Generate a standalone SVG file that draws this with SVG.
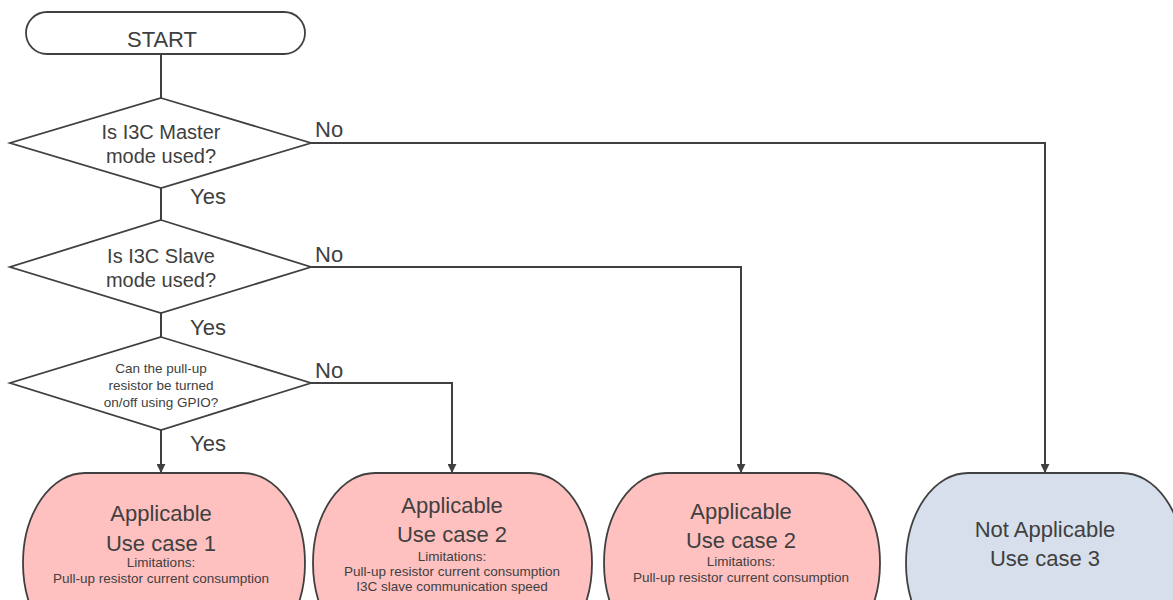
<svg xmlns="http://www.w3.org/2000/svg" width="1173" height="600" viewBox="0 0 1173 600">
<defs>
<style>
.s{stroke:#404040;stroke-width:1.8;fill:#fff}
.app{fill:#ffc0c0;stroke:#404040;stroke-width:1.8}
.na{fill:#d6dfeb;stroke:#404040;stroke-width:1.8}
.ln{stroke:#404040;stroke-width:2;fill:none}
text{font-family:"Liberation Sans",Arial,sans-serif;fill:#404040;text-anchor:middle}
.big{font-size:22px}
.dt{font-size:20px}
.sm{font-size:13.5px}
.lbl{font-size:22px;text-anchor:start}
</style>
<marker id="ah" viewBox="0 0 10 10" refX="9" refY="5" markerWidth="4.5" markerHeight="4.5" orient="auto" markerUnits="strokeWidth">
<path d="M0,0 L10,5 L0,10 z" fill="#404040"/>
</marker>
</defs>
<rect width="1173" height="600" fill="#fff"/>
<g id="connectors">
<line class="ln" x1="161" y1="54" x2="161" y2="98"/>
<line class="ln" x1="161" y1="188" x2="161" y2="220"/>
<line class="ln" x1="161" y1="313" x2="161" y2="337"/>
<line class="ln" x1="161" y1="430" x2="161" y2="472" marker-end="url(#ah)"/>
<polyline class="ln" points="311,143 1045,143 1045,472" marker-end="url(#ah)"/>
<polyline class="ln" points="311,267 741,267 741,472" marker-end="url(#ah)"/>
<polyline class="ln" points="311,383 452,383 452,472" marker-end="url(#ah)"/>
<text class="lbl" x="315" y="137">No</text>
<text class="lbl" x="190" y="204">Yes</text>
<text class="lbl" x="315" y="262">No</text>
<text class="lbl" x="190" y="335">Yes</text>
<text class="lbl" x="315" y="378">No</text>
<text class="lbl" x="190" y="451">Yes</text>
</g>
<g id="start">
<rect class="s" x="26" y="12" width="279" height="42" rx="21" ry="21"/>
<text class="big" x="162" y="47">START</text>
</g>
<g id="q1">
<polygon class="s" points="161,98 311,143 161,188 10,143"/>
<text class="dt" x="161" y="139">Is I3C Master</text>
<text class="dt" x="161" y="163">mode used?</text>
</g>
<g id="q2">
<polygon class="s" points="161,220 311,267 161,313 10,267"/>
<text class="dt" x="161" y="263">Is I3C Slave</text>
<text class="dt" x="161" y="287">mode used?</text>
</g>
<g id="q3">
<polygon class="s" points="161,337 311,383 161,430 10,383"/>
<text class="sm" x="161" y="373">Can the pull-up</text>
<text class="sm" x="161" y="390">resistor be turned</text>
<text class="sm" x="161" y="407">on/off using GPIO?</text>
</g>
<g id="uc1">
<rect class="app" x="23" y="473" width="282" height="180" rx="62" ry="90"/>
<text class="big" x="161" y="521">Applicable</text>
<text class="big" x="161" y="551">Use case 1</text>
<text class="sm" x="161" y="567">Limitations:</text>
<text class="sm" x="161" y="583">Pull-up resistor current consumption</text>
</g>
<g id="uc2a">
<rect class="app" x="313" y="473" width="279" height="180" rx="62" ry="90"/>
<text class="big" x="452" y="513">Applicable</text>
<text class="big" x="452" y="542">Use case 2</text>
<text class="sm" x="452" y="561">Limitations:</text>
<text class="sm" x="452" y="576">Pull-up resistor current consumption</text>
<text class="sm" x="452" y="591">I3C slave communication speed</text>
</g>
<g id="uc2b">
<rect class="app" x="604" y="473" width="276" height="180" rx="62" ry="90"/>
<text class="big" x="741" y="519">Applicable</text>
<text class="big" x="741" y="548">Use case 2</text>
<text class="sm" x="741" y="566">Limitations:</text>
<text class="sm" x="741" y="582">Pull-up resistor current consumption</text>
</g>
<g id="uc3">
<rect class="na" x="906" y="473" width="278" height="180" rx="62" ry="90"/>
<text class="big" x="1045" y="537">Not Applicable</text>
<text class="big" x="1045" y="566">Use case 3</text>
</g>
</svg>
